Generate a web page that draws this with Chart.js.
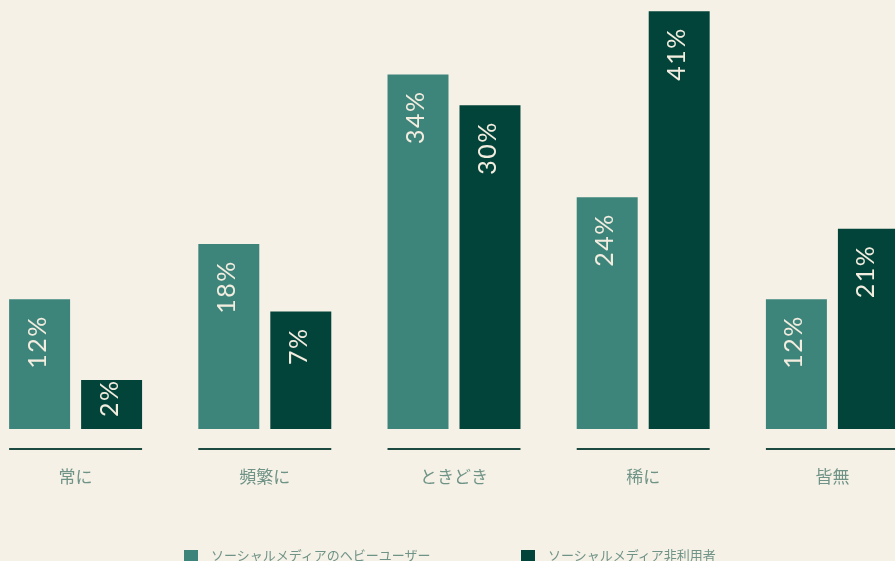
<!DOCTYPE html>
<html>
<head>
<meta charset="utf-8">
<script src="https://cdn.jsdelivr.net/npm/chart.js@4"></script>
<style>
  html, body { margin: 0; padding: 0; background: #f6f1e7; overflow: hidden; width: 895px; height: 561px; }
  #wrap { position: absolute; left: -19px; top: 0; width: 946px; height: 561px; }
  .legend { position: absolute; top: 549px; font: 13px "Noto Sans CJK JP", sans-serif; color: #6f9386; white-space: nowrap; }
  .legend span.box { position: absolute; left: 0; top: 1px; width: 14px; height: 14px; }
  .legend span.txt { position: absolute; left: 27px; top: -4px; }
</style>
</head>
<body>
<div id="wrap"><canvas id="chart"></canvas></div>
<div class="legend" style="left:184px"><span class="box" style="background:#3d847b"></span><span class="txt">ソーシャルメディアのヘビーユーザー</span></div>
<div class="legend" style="left:521px"><span class="box" style="background:#03443a"></span><span class="txt">ソーシャルメディア非利用者</span></div>
<script>
// カテゴリ・系列
const categories = ['常に', '頻繁に', 'ときどき', '稀に', '皆無'];
const seriesNames = ['ソーシャルメディアのヘビーユーザー', 'ソーシャルメディア非利用者'];
// バーの高さ
const heavyValues = [12.7, 18.1, 34.7, 22.7, 12.7];
const nonUserValues = [4.8, 11.5, 31.7, 40.9, 19.6];
// バー内の表示ラベル
const heavyLabels = ['12%', '18%', '34%', '24%', '12%'];
const nonUserLabels = ['2%', '7%', '30%', '41%', '21%'];

const colors = ['#3d847b', '#03443a'];
const catPct = 0.761;
const barPct = 0.847;

const barLabelPlugin = {
    id: 'barLabels',
    afterDatasetsDraw(chart) {
        const ctx = chart.ctx;
        const labelSets = [heavyLabels, nonUserLabels];
        ctx.save();
        ctx.fillStyle = '#f3ede0';
        ctx.font = '400 25px Lato, sans-serif';
        ctx.letterSpacing = '1.5px';
        ctx.textAlign = 'right';
        ctx.textBaseline = 'alphabetic';
        chart.data.datasets.forEach((ds, di) => {
            chart.getDatasetMeta(di).data.forEach((bar, i) => {
                const txt = labelSets[di][i];
                const tw = ctx.measureText(txt).width;
                const h = bar.base - bar.y;
                const off = Math.min(16, h - tw - 12);
                ctx.save();
                ctx.translate(bar.x + 6, bar.y + off);
                ctx.rotate(-Math.PI / 2);
                ctx.fillText(txt, 0, 0);
                ctx.restore();
            });
        });
        ctx.restore();
    }
};

const categoryPlugin = {
    id: 'categoryLines',
    afterDraw(chart) {
        const ctx = chart.ctx;
        const xs = chart.scales.x;
        const slot = (xs.width / categories.length) * catPct / 2;
        const w = slot + slot * barPct;
        ctx.save();
        categories.forEach((c, i) => {
            const cx = xs.getPixelForValue(i);
            ctx.strokeStyle = '#1c4a41';
            ctx.lineWidth = 2;
            ctx.beginPath();
            ctx.moveTo(cx - w / 2, 449);
            ctx.lineTo(cx + w / 2, 449);
            ctx.stroke();
            ctx.fillStyle = '#6f9386';
            ctx.font = '17px "Noto Sans CJK JP", sans-serif';
            ctx.textAlign = 'center';
            ctx.textBaseline = 'middle';
            ctx.fillText(c, cx, 477);
        });
        ctx.restore();
    }
};

new Chart(document.getElementById('chart'), {
    type: 'bar',
    data: {
        labels: categories,
        datasets: [
            { label: seriesNames[0], data: heavyValues, backgroundColor: colors[0] },
            { label: seriesNames[1], data: nonUserValues, backgroundColor: colors[1] }
        ]
    },
    options: {
        responsive: true,
        maintainAspectRatio: false,
        animation: false,
        layout: { padding: { top: 0, bottom: 132, left: 0, right: 0 } },
        datasets: { bar: { categoryPercentage: catPct, barPercentage: barPct, borderWidth: 0 } },
        scales: {
            x: { display: false },
            y: { display: false, min: 0, max: 42 }
        },
        plugins: { legend: { display: false }, tooltip: { enabled: false } }
    },
    plugins: [barLabelPlugin, categoryPlugin]
});
</script>
</body>
</html>
